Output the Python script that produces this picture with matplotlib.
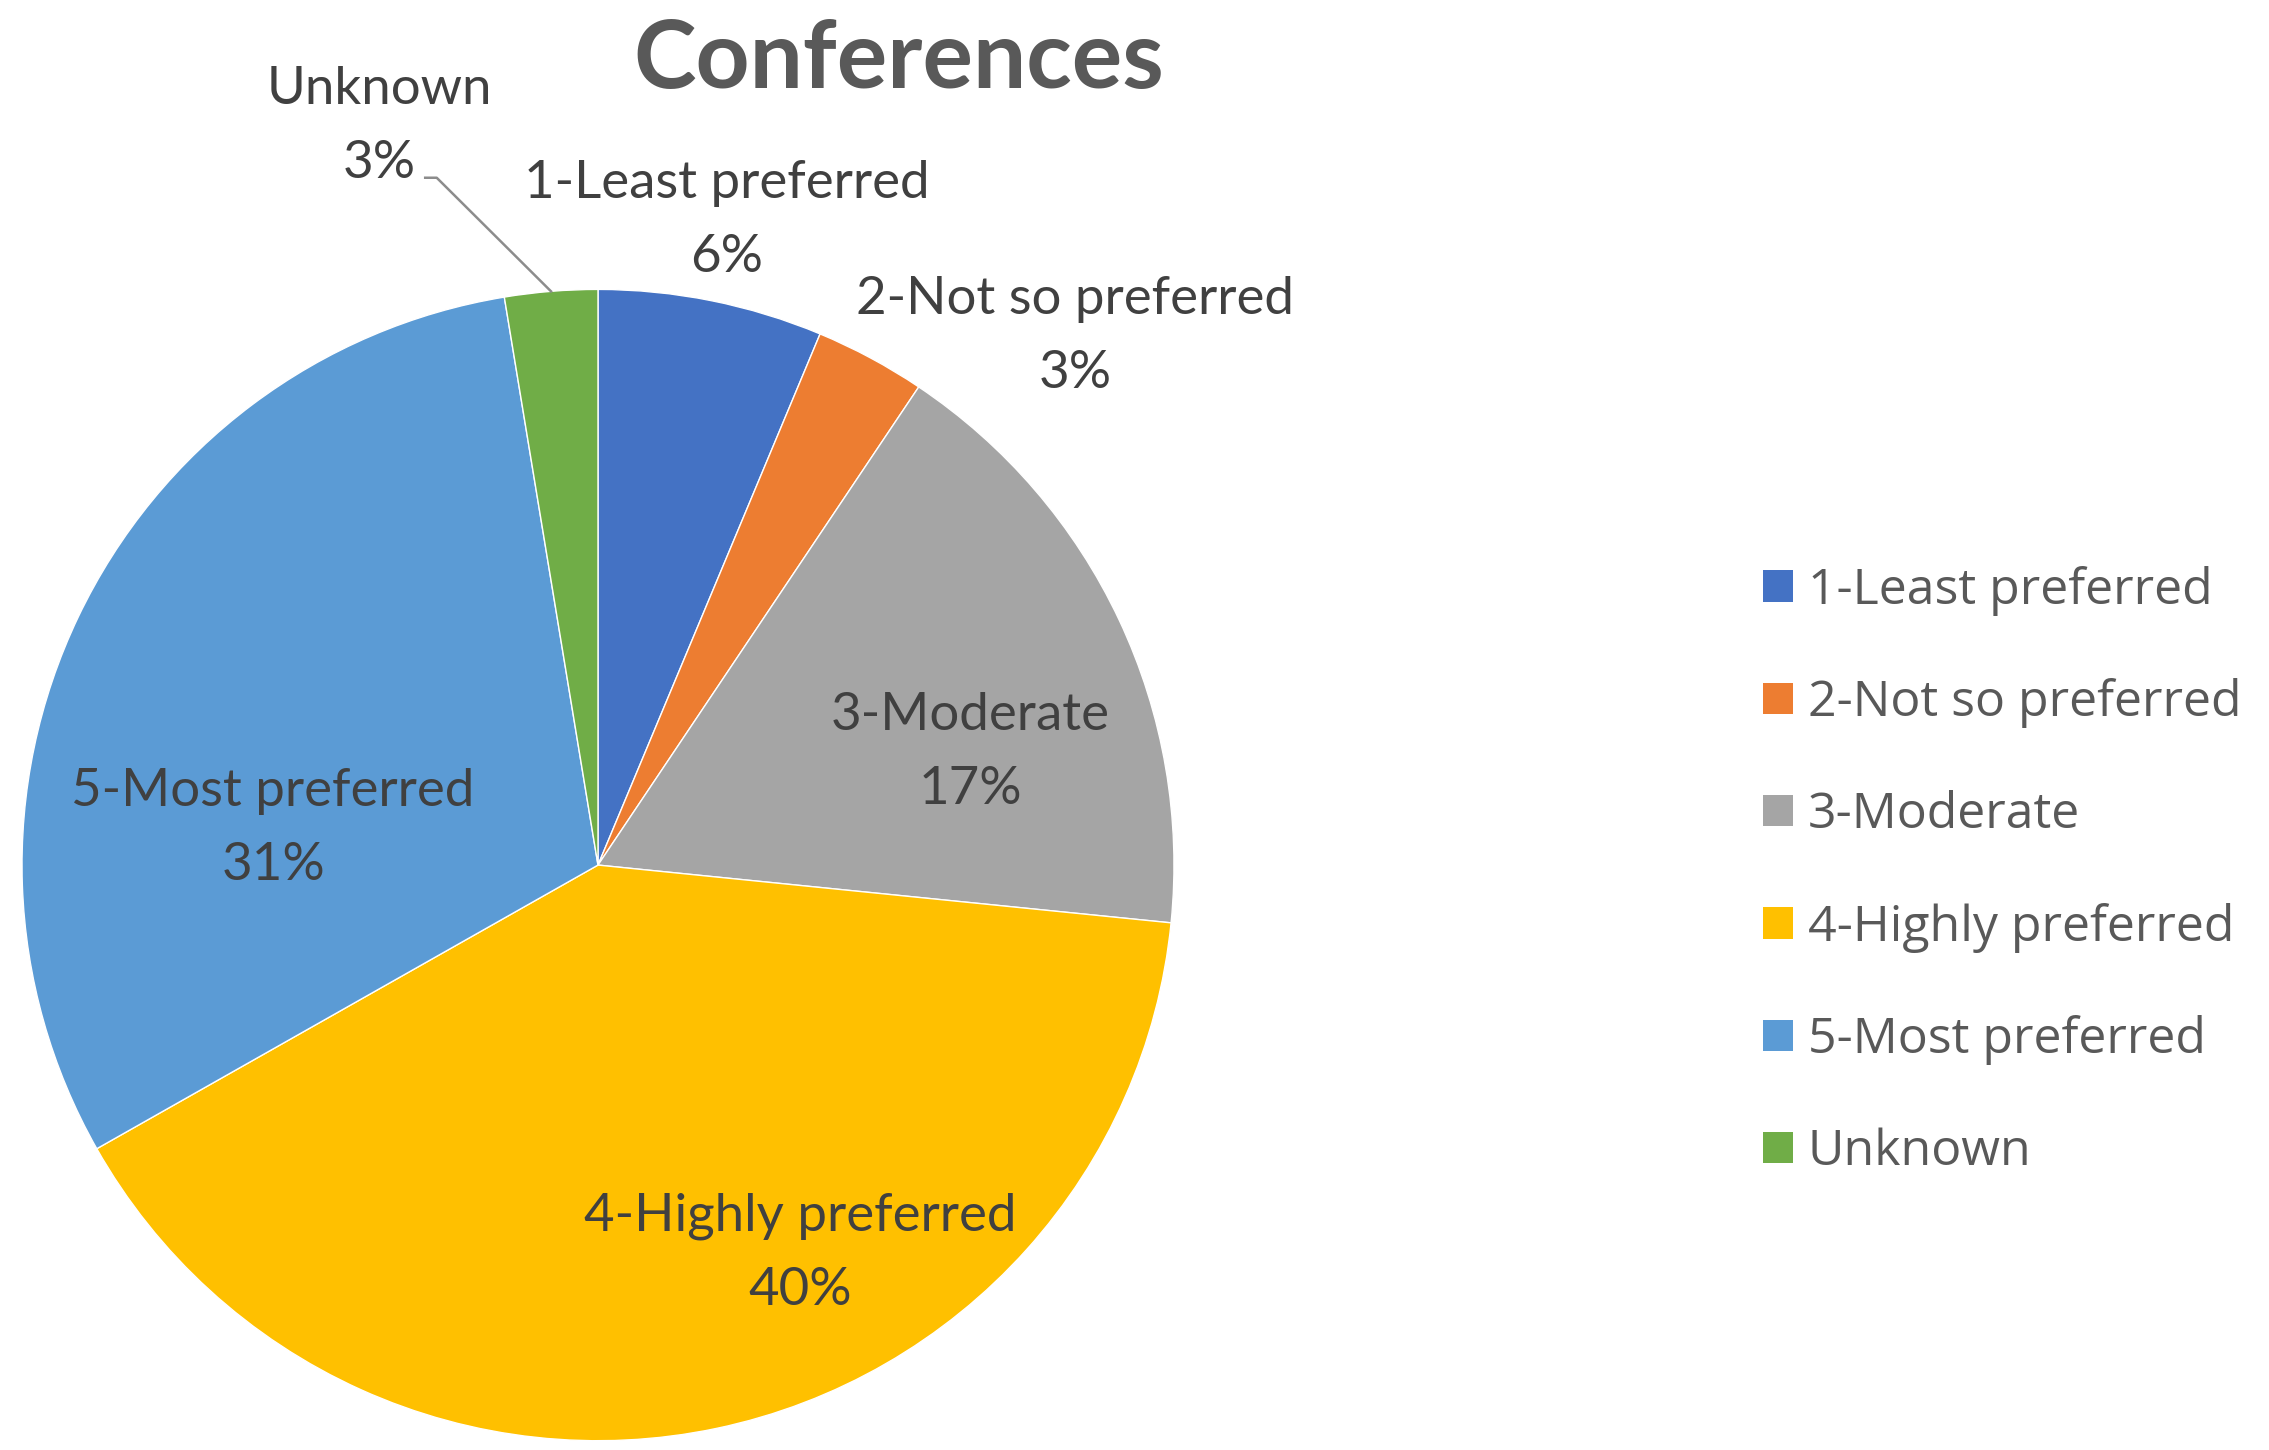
import numpy as np
import matplotlib
matplotlib.use("Agg")
import matplotlib.pyplot as plt
from matplotlib.patches import Patch

# Data (slice shares in %)
categories = ["1-Least preferred", "2-Not so preferred", "3-Moderate",
              "4-Highly preferred", "5-Most preferred", "Unknown"]
shares = [6.3, 3.1, 17.2, 40.2, 30.6, 2.6]
colors = ["#4472C4", "#ED7D31", "#A5A5A5", "#FFC000", "#5B9BD5", "#70AD47"]

# label placement (in pie units, radius = 1)
label_pos = {
    "1-Least preferred": (0.224, 1.12),
    "2-Not so preferred": (0.828, 0.918),
    "3-Moderate": (0.646, 0.196),
    "4-Highly preferred": (0.351, -0.674),
    "5-Most preferred": (-0.564, 0.064),
    "Unknown": (-0.38, 1.283),
}

TEXT = "#404040"
plt.rcParams["font.family"] = ["Lato", "DejaVu Sans"]

fig = plt.figure(figsize=(22.69, 14.50), dpi=100)
ax = fig.add_axes([0.0097, 0.0064, 0.5077, 0.794])

wedges, _ = ax.pie(shares, colors=colors, startangle=90, counterclock=False,
                   radius=1.0, wedgeprops=dict(edgecolor="white", linewidth=1.0))
ax.set_xlim(-1, 1)
ax.set_ylim(-1, 1)
ax.set_aspect("auto")
ax.axis("off")

total = sum(shares)
for cat, val in zip(categories, shares):
    x, y = label_pos[cat]
    pct = int(100 * val / total + 0.5)
    ax.text(x, y, f"{cat}\n{pct}%", ha="center", va="center", fontsize=38,
            color=TEXT, linespacing=1.7, clip_on=False)

# leader line for the small "Unknown" slice
w = wedges[-1]
mid = np.deg2rad((w.theta1 + w.theta2) / 2)
ex, ey = np.cos(mid), np.sin(mid)
ax.plot([-0.30, -0.28, ex], [1.194, 1.194, ey], color="#8C8C8C",
        linewidth=1.8, clip_on=False)

fig.text(0.396, 0.958, "Conferences", ha="center", va="center", fontsize=68,
         fontweight="bold", color="#595959")

handles = [Patch(facecolor=c, edgecolor="none") for c in colors]
leg = fig.legend(handles, categories, loc="upper left",
                 bbox_to_anchor=(0.757, 0.641), frameon=False,
                 prop={"family": "Open Sans", "size": 36},
                 labelcolor="#595959", handlelength=0.6, handleheight=0.6,
                 handletextpad=0.3, labelspacing=1.25)

fig.savefig("out.png", dpi=100, facecolor="white")
